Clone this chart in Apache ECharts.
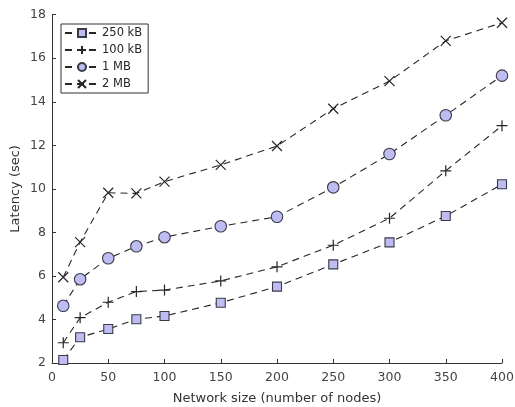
<!DOCTYPE html>
<html>
<head>
<meta charset="utf-8">
<script src="https://cdn.jsdelivr.net/npm/echarts@6/dist/echarts.min.js"></script>
<style>
  html, body { margin: 0; padding: 0; background: #fff; }
  #chart { width: 515px; height: 407px; }
</style>
</head>
<body>
<div id="chart"></div>
<script>
// 网络规模（节点数）
const nodes = [10, 25, 50, 75, 100, 150, 200, 250, 300, 350, 400]

// 各消息大小的延迟（秒）
const lat250kB = [2.14, 3.18, 3.56, 4.01, 4.16, 4.77, 5.51, 6.53, 7.54, 8.75, 10.21]
const lat100kB = [2.93, 4.08, 4.79, 5.28, 5.35, 5.77, 6.42, 7.41, 8.65, 10.83, 12.9]
const lat1MB = [4.63, 5.85, 6.81, 7.36, 7.78, 8.28, 8.72, 10.07, 11.6, 13.38, 15.2]
const lat2MB = [5.94, 7.55, 9.82, 9.79, 10.33, 11.1, 11.97, 13.68, 14.95, 16.8, 17.63]

const seriesNames = ['250 kB', '100 kB', '1 MB', '2 MB']

const xTicks = { min: 0, max: 400, interval: 50 }
const yTicks = { min: 2, max: 18, interval: 2 }

const lineColor = '#262626'
const fillColor = '#bdbdf2'
const font = 'DejaVu Sans'

const PLUS = 'path://M5,0 L5,10 M0,5 L10,5'
const CROSS = 'path://M0,0 L10,10 M10,0 L0,10'

function makeSeries(name, values, symbol, size, filled) {
  return {
    name,
    type: 'line',
    data: nodes.map((n, i) => [n, values[i]]),
    symbol,
    symbolSize: size,
    showAllSymbol: true,
    lineStyle: { color: lineColor, width: 1.1, type: [7, 5] },
    itemStyle: {
      color: filled ? fillColor : 'rgba(0,0,0,0)',
      borderColor: filled ? '#3a3a4a' : lineColor,
      borderWidth: filled ? 1.1 : 1.2,
    },
    emphasis: { disabled: true },
    z: 3,
  }
}

const chart = echarts.init(document.getElementById('chart'))
chart.setOption({
  animation: false,
  backgroundColor: '#fff',
  textStyle: { fontFamily: font },
  grid: { left: 52, right: 13, top: 14.7, bottom: 44, outerBoundsMode: 'none', containLabel: false },
  legend: {
    orient: 'vertical',
    left: 61,
    top: 24,
    data: seriesNames,
    itemWidth: 34,
    itemHeight: 10,
    itemGap: 5,
    padding: [3, 6, 3, 3],
    borderColor: '#333',
    borderWidth: 1,
    backgroundColor: '#fff',
    textStyle: { fontFamily: font, fontSize: 11.5, color: '#262626', padding: [0, 0, 0, -2] },
  },
  xAxis: {
    type: 'value',
    ...xTicks,
    name: 'Network size (number of nodes)',
    nameLocation: 'middle',
    nameGap: 29,
    nameMoveOverlap: false,
    nameTextStyle: { fontFamily: font, fontSize: 13, color: '#333' },
    axisLine: { lineStyle: { color: '#333', width: 1 } },
    axisTick: { inside: true, length: 4, lineStyle: { color: '#333' } },
    axisLabel: { fontFamily: font, fontSize: 12.5, color: '#444', margin: 8 },
    splitLine: { show: false },
  },
  yAxis: {
    type: 'value',
    ...yTicks,
    name: 'Latency (sec)',
    nameLocation: 'middle',
    nameGap: 30,
    nameMoveOverlap: false,
    nameTextStyle: { fontFamily: font, fontSize: 13, color: '#333' },
    axisLine: { show: true, lineStyle: { color: '#333', width: 1 } },
    axisTick: { show: true, inside: true, length: 4, lineStyle: { color: '#333' } },
    axisLabel: { fontFamily: font, fontSize: 12.5, color: '#444', margin: 6 },
    splitLine: { show: false },
  },
  series: [
    makeSeries('250 kB', lat250kB, 'rect', 9, true),
    makeSeries('100 kB', lat100kB, PLUS, 11, false),
    makeSeries('1 MB', lat1MB, 'circle', 11.5, true),
    makeSeries('2 MB', lat2MB, CROSS, 10, false),
  ],
})
</script>
</body>
</html>
